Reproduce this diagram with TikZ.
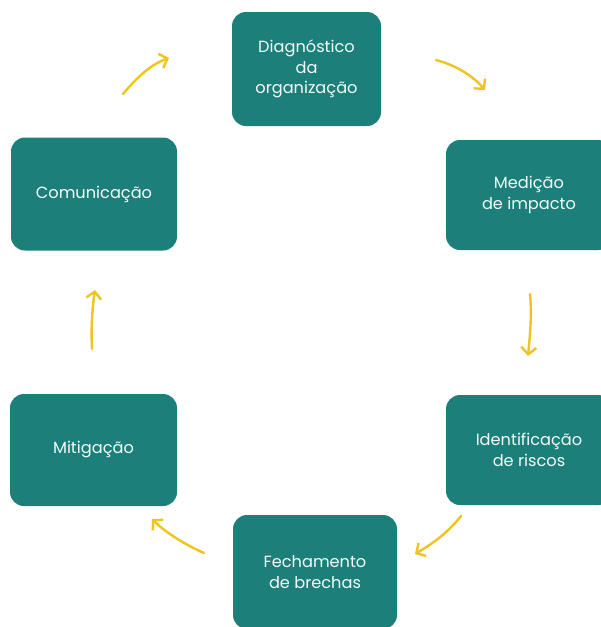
\documentclass[tikz,border=0pt]{standalone}
\usepackage{fontspec}
\setmainfont{Poppins}
\usetikzlibrary{arrows.meta}
\definecolor{teal}{HTML}{1D7F7A}
\definecolor{arrowyellow}{HTML}{EFC421}
\definecolor{boxtext}{HTML}{F2FBFA}
\begin{document}
\begin{tikzpicture}[x=1pt,y=-1pt,
  box/.style={fill=teal, rounded corners=14pt, text=boxtext, align=center,
    font=\fontsize{16.2}{20.5}\selectfont, inner sep=0pt},
  cyc/.style={draw=arrowyellow, line width=2.4pt, line cap=round,
    -{Straight Barb[length=7pt,width=15pt,line width=2.4pt]}}]
\useasboundingbox (0,0) rectangle (601,627);
\fill[white] (0,0) rectangle (601,627);
\node[box, minimum width=149pt, minimum height=114pt] (diag) at (306.5,69) {Diagnóstico\\da\\organização};
\node[box, minimum width=166pt, minimum height=110pt] (med) at (529,195) {Medição\\de impacto};
\node[box, minimum width=166pt, minimum height=110pt] (ident) at (529,450) {Identificação\\de riscos};
\node[box, minimum width=164pt, minimum height=114pt] (fech) at (315,572) {Fechamento\\de brechas};
\node[box, minimum width=167pt, minimum height=112pt] (miti) at (93.5,450) {Mitigação};
\node[box, minimum width=166pt, minimum height=113pt] (comu) at (94,194) {Comunicação};
% arrow endpoints
\coordinate (a1s) at (123,94); \coordinate (a1e) at (169,58);
\coordinate (a2s) at (436,60); \coordinate (a2e) at (485,90);
\coordinate (a3s) at (530,294); \coordinate (a3e) at (528,356);
\coordinate (a4s) at (461,516); \coordinate (a4e) at (415,554);
\coordinate (a5s) at (204,553); \coordinate (a5e) at (152,519);
\coordinate (a6s) at (92,349); \coordinate (a6e) at (95,290);
\draw[cyc] (a1s) .. controls (138,76) and (152,64) .. (a1e);
\draw[cyc] (a2s) .. controls (455,65) and (472,75) .. (a2e);
\draw[cyc] (a3s) .. controls (532,315) and (530,335) .. (a3e);
\draw[cyc] (a4s) .. controls (446,535) and (430,545) .. (a4e);
\draw[cyc] (a5s) .. controls (186,545) and (166,533) .. (a5e);
\draw[cyc] (a6s) .. controls (91,330) and (92,310) .. (a6e);
\end{tikzpicture}
\end{document}
